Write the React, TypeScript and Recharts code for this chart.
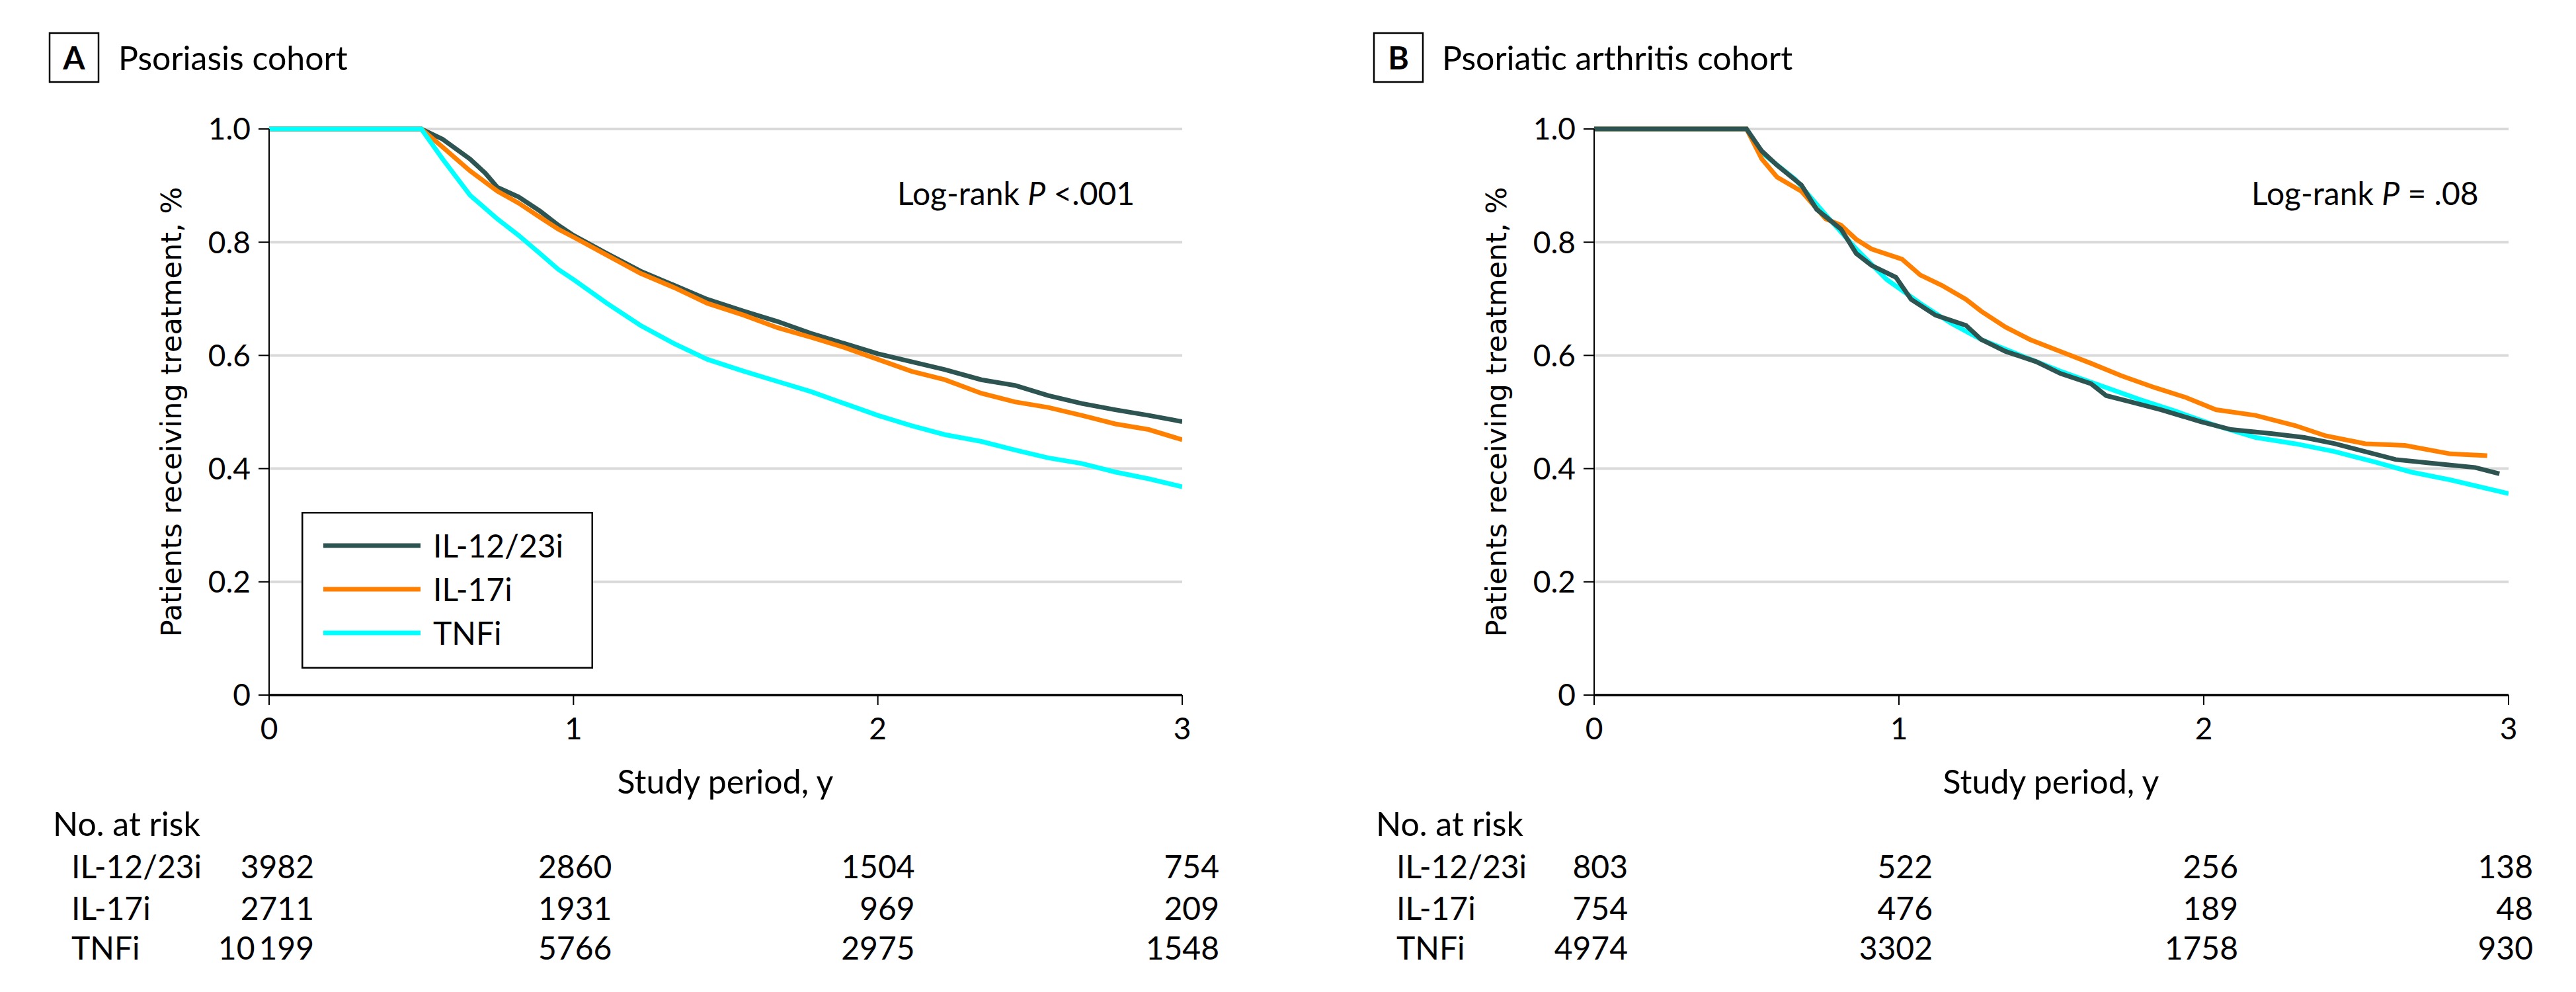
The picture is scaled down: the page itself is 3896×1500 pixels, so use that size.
import React from 'react';
import { LineChart, Line, XAxis, YAxis, CartesianGrid, Legend } from 'recharts';

const FONT = 'Lato, "Noto Sans", sans-serif';
const YFONT = '"DejaVu Sans", sans-serif';
const C_IL1223 = '#2E5452';
const C_IL17 = '#FF8000';
const C_TNF = '#00FFFF';

const X_TICKS = [0, 1, 2, 3];
const Y_TICKS = [0, 0.2, 0.4, 0.6, 0.8, 1.0];
const SERIES_NAMES = ['IL-12/23i', 'IL-17i', 'TNFi'];

// ---- Panel A: Psoriasis cohort ----
const A_T_IL1223 = [0, 0.5, 0.57, 0.66, 0.71, 0.75, 0.82, 0.89, 0.95, 1.0, 1.11, 1.22, 1.33, 1.44, 1.56, 1.67, 1.78, 1.89, 2.0, 2.11, 2.22, 2.34, 2.45, 2.56, 2.67, 2.78, 2.89, 3.0];
const A_V_IL1223 = [1, 1, 0.982, 0.947, 0.922, 0.897, 0.88, 0.855, 0.83, 0.812, 0.78, 0.749, 0.724, 0.699, 0.678, 0.66, 0.639, 0.621, 0.603, 0.589, 0.575, 0.557, 0.547, 0.529, 0.515, 0.504, 0.494, 0.483];
const A_T_IL17 = [0, 0.5, 0.57, 0.66, 0.75, 0.82, 0.89, 0.95, 1.0, 1.11, 1.22, 1.33, 1.44, 1.56, 1.67, 1.78, 1.89, 2.0, 2.11, 2.22, 2.34, 2.45, 2.56, 2.67, 2.78, 2.89, 3.0];
const A_V_IL17 = [1, 1, 0.968, 0.926, 0.89, 0.869, 0.844, 0.823, 0.809, 0.777, 0.745, 0.72, 0.692, 0.671, 0.649, 0.632, 0.614, 0.593, 0.572, 0.557, 0.533, 0.518, 0.508, 0.494, 0.479, 0.469, 0.451];
const A_T_TNF = [0, 0.5, 0.57, 0.66, 0.75, 0.82, 0.89, 0.95, 1.0, 1.11, 1.22, 1.33, 1.44, 1.56, 1.67, 1.78, 1.89, 2.0, 2.11, 2.22, 2.34, 2.45, 2.56, 2.67, 2.78, 2.89, 3.0];
const A_V_TNF = [1, 1, 0.947, 0.883, 0.841, 0.812, 0.78, 0.752, 0.734, 0.692, 0.653, 0.621, 0.593, 0.572, 0.554, 0.536, 0.515, 0.494, 0.476, 0.46, 0.448, 0.433, 0.419, 0.409, 0.394, 0.382, 0.368];
const A_RISK_IL1223 = [3982, 2860, 1504, 754];
const A_RISK_IL17 = [2711, 1931, 969, 209];
const A_RISK_TNF = [10199, 5766, 2975, 1548];

// ---- Panel B: Psoriatic arthritis cohort ----
const B_T_IL1223 = [0, 0.5, 0.55, 0.6, 0.68, 0.73, 0.81, 0.86, 0.91, 0.99, 1.04, 1.12, 1.22, 1.27, 1.35, 1.45, 1.53, 1.63, 1.68, 1.76, 1.86, 1.99, 2.09, 2.22, 2.33, 2.43, 2.53, 2.63, 2.76, 2.89, 2.97];
const B_V_IL1223 = [1, 1, 0.961, 0.936, 0.901, 0.858, 0.823, 0.78, 0.759, 0.738, 0.699, 0.671, 0.653, 0.628, 0.607, 0.589, 0.568, 0.55, 0.529, 0.518, 0.504, 0.483, 0.469, 0.462, 0.455, 0.444, 0.43, 0.416, 0.409, 0.402, 0.391];
const B_T_IL17 = [0, 0.5, 0.55, 0.6, 0.68, 0.76, 0.81, 0.86, 0.91, 1.01, 1.07, 1.14, 1.22, 1.27, 1.35, 1.43, 1.53, 1.63, 1.73, 1.84, 1.94, 2.04, 2.17, 2.3, 2.4, 2.53, 2.66, 2.81, 2.93];
const B_V_IL17 = [1, 1, 0.947, 0.915, 0.89, 0.841, 0.83, 0.805, 0.788, 0.77, 0.742, 0.724, 0.699, 0.678, 0.65, 0.628, 0.607, 0.586, 0.564, 0.543, 0.526, 0.504, 0.494, 0.476, 0.458, 0.444, 0.441, 0.426, 0.423];
const B_T_TNF = [0, 0.5, 0.55, 0.66, 0.76, 0.86, 0.96, 1.07, 1.17, 1.27, 1.4, 1.53, 1.66, 1.79, 1.91, 2.04, 2.17, 2.3, 2.43, 2.56, 2.68, 2.81, 3.0];
const B_V_TNF = [1, 1, 0.958, 0.911, 0.848, 0.788, 0.734, 0.692, 0.657, 0.628, 0.6, 0.572, 0.547, 0.522, 0.501, 0.476, 0.455, 0.444, 0.43, 0.412, 0.394, 0.38, 0.356];
const B_RISK_IL1223 = [803, 522, 256, 138];
const B_RISK_IL17 = [754, 476, 189, 48];
const B_RISK_TNF = [4974, 3302, 1758, 930];

const mk = (t: number[], v: number[]) => t.map((x, i) => ({ t: x, v: v[i] }));

const fmtRisk = (n: number) => {
  if (n >= 10000) {
    const s = String(n);
    return s.slice(0, s.length - 3) + '\u2009' + s.slice(s.length - 3);
  }
  return String(n);
};

const ROW_DY = [262, 325, 385];

const makeTick = (risk: number[][], offsets: number[]) => (props: any) => {
  const { x, y, payload } = props;
  const i = X_TICKS.indexOf(payload.value);
  return (
    <g>
      <text x={x} y={y + 52} textAnchor="middle" fontSize={46} fontFamily={FONT} fill="#000">
        {payload.value}
      </text>
      {risk.map((row, r) => (
        <text key={r} x={x + offsets[i]} y={y + ROW_DY[r]} textAnchor="end" fontSize={48} fontFamily={FONT} fill="#000">
          {fmtRisk(row[i])}
        </text>
      ))}
    </g>
  );
};

const renderLegend = (props: any) => {
  const payload = props.payload || [];
  return (
    <svg width={441} height={237} style={{ display: 'block' }}>
      <rect x={1.25} y={1.25} width={438.5} height={234.5} fill="#fff" stroke="#000" strokeWidth={2.5} />
      {payload.map((p: any, i: number) => (
        <g key={i}>
          <line x1={33} x2={180} y1={51 + 66 * i} y2={51 + 66 * i} stroke={p.color} strokeWidth={7} />
          <text x={199} y={69 + 66 * i} fontSize={48} fontFamily={FONT} fill="#000">
            {p.value}
          </text>
        </g>
      ))}
    </svg>
  );
};

const yFmt = (v: number) => (v === 0 ? '0' : v.toFixed(1));

type PanelProps = {
  left: number;
  yAxisWidth: number;
  rightMargin: number;
  letter: string;
  title: string;
  boxX: number;
  titleX: number;
  yLabelX: number;
  logRankX: number;
  pText: string;
  studyX: number;
  noRiskX: number;
  rowLabelX: number;
  series: { name: string; color: string; data: { t: number; v: number }[] }[];
  risk: number[][];
  offsets: number[];
  showLegend: boolean;
};

const W = 1948;
const H = 1500;

const Panel = (p: PanelProps) => {
  const tick = makeTick(p.risk, p.offsets);
  return (
    <div style={{ position: 'absolute', left: p.left, top: 0, width: W, height: H }}>
      <LineChart width={W} height={H} margin={{ top: 195, right: p.rightMargin, left: 0, bottom: 0 }}>
        <CartesianGrid horizontal vertical={false} stroke="#d9d9d9" strokeWidth={4} />
        <XAxis
          dataKey="t"
          type="number"
          domain={[0, 3]}
          ticks={X_TICKS}
          interval={0}
          height={449}
          tickSize={15}
          tickMargin={0}
          axisLine={{ stroke: '#000', strokeWidth: 3.5 }}
          tickLine={{ stroke: '#000', strokeWidth: 2 }}
          tick={tick}
          allowDataOverflow
        />
        <YAxis
          type="number"
          domain={[0, 1]}
          ticks={Y_TICKS}
          interval={0}
          width={p.yAxisWidth}
          tickSize={16}
          tickMargin={12}
          tickFormatter={yFmt}
          axisLine={{ stroke: '#000', strokeWidth: 2 }}
          tickLine={{ stroke: '#000', strokeWidth: 2 }}
          tick={{ fill: '#000', fontSize: 46, fontFamily: FONT }}
        />
        {p.series.map((s) => (
          <Line
            key={s.name}
            data={s.data}
            dataKey="v"
            name={s.name}
            type="linear"
            stroke={s.color}
            strokeWidth={7}
            dot={false}
            activeDot={false}
            isAnimationActive={false}
          />
        ))}
        {p.showLegend && (
          <Legend
            layout="vertical"
            align="center"
            verticalAlign="middle"
            content={renderLegend}
            wrapperStyle={{ left: 456, top: 774, width: 441, height: 237 }}
          />
        )}
      </LineChart>
      <svg width={W} height={H} style={{ position: 'absolute', left: 0, top: 0, pointerEvents: 'none' }}>
        <rect x={p.boxX} y={50} width={74} height={74} fill="none" stroke="#000" strokeWidth={2.5} />
        <text x={p.boxX + 37} y={105} textAnchor="middle" fontSize={48} fontWeight="bold" fontFamily={FONT} fill="#000">
          {p.letter}
        </text>
        <text x={p.titleX} y={106} fontSize={50} fontFamily={FONT} fill="#000">
          {p.title}
        </text>
        <text
          x={p.yLabelX}
          y={623}
          transform={`rotate(-90 ${p.yLabelX} 623)`}
          textAnchor="middle"
          fontSize={43}
          fontFamily={YFONT}
          fill="#000"
        >
          Patients receiving treatment, %
        </text>
        <text x={p.logRankX} y={310} fontSize={48} fontFamily={FONT} fill="#000">
          Log-rank <tspan fontStyle="italic">P</tspan>
          {p.pText}
        </text>
        <text x={p.studyX} y={1200} textAnchor="middle" fontSize={50} fontFamily={FONT} fill="#000">
          Study period, y
        </text>
        <text x={p.noRiskX} y={1264} fontSize={50} fontFamily={FONT} fill="#000">
          No. at risk
        </text>
        {SERIES_NAMES.map((n, i) => (
          <text key={n} x={p.rowLabelX} y={1066 + ROW_DY[i]} fontSize={48} fontFamily={FONT} fill="#000">
            {n}
          </text>
        ))}
      </svg>
    </div>
  );
};

export default function App() {
  const seriesA = [
    { name: SERIES_NAMES[0], color: C_IL1223, data: mk(A_T_IL1223, A_V_IL1223) },
    { name: SERIES_NAMES[1], color: C_IL17, data: mk(A_T_IL17, A_V_IL17) },
    { name: SERIES_NAMES[2], color: C_TNF, data: mk(A_T_TNF, A_V_TNF) },
  ];
  const seriesB = [
    { name: SERIES_NAMES[2], color: C_TNF, data: mk(B_T_TNF, B_V_TNF) },
    { name: SERIES_NAMES[1], color: C_IL17, data: mk(B_T_IL17, B_V_IL17) },
    { name: SERIES_NAMES[0], color: C_IL1223, data: mk(B_T_IL1223, B_V_IL1223) },
  ];
  return (
    <div style={{ position: 'absolute', left: 0, top: 0, width: 3896, height: 1500, background: '#fff', overflow: 'hidden' }}>
      <Panel
        left={0}
        yAxisWidth={407}
        rightMargin={W - 1788}
        letter="A"
        title="Psoriasis cohort"
        boxX={75}
        titleX={179}
        yLabelX={274}
        logRankX={1357}
        pText=" <.001"
        studyX={1097}
        noRiskX={80}
        rowLabelX={108}
        series={seriesA}
        risk={[A_RISK_IL1223, A_RISK_IL17, A_RISK_TNF]}
        offsets={[68, 58, 56, 56]}
        showLegend
      />
      <Panel
        left={1948}
        yAxisWidth={463}
        rightMargin={W - 1846}
        letter="B"
        title="Psoriatic arthritis cohort"
        boxX={130}
        titleX={233}
        yLabelX={330}
        logRankX={1457}
        pText=" = .08"
        studyX={1154}
        noRiskX={133}
        rowLabelX={164}
        series={seriesB}
        risk={[B_RISK_IL1223, B_RISK_IL17, B_RISK_TNF]}
        offsets={[51, 51, 52, 37]}
        showLegend={false}
      />
    </div>
  );
}
